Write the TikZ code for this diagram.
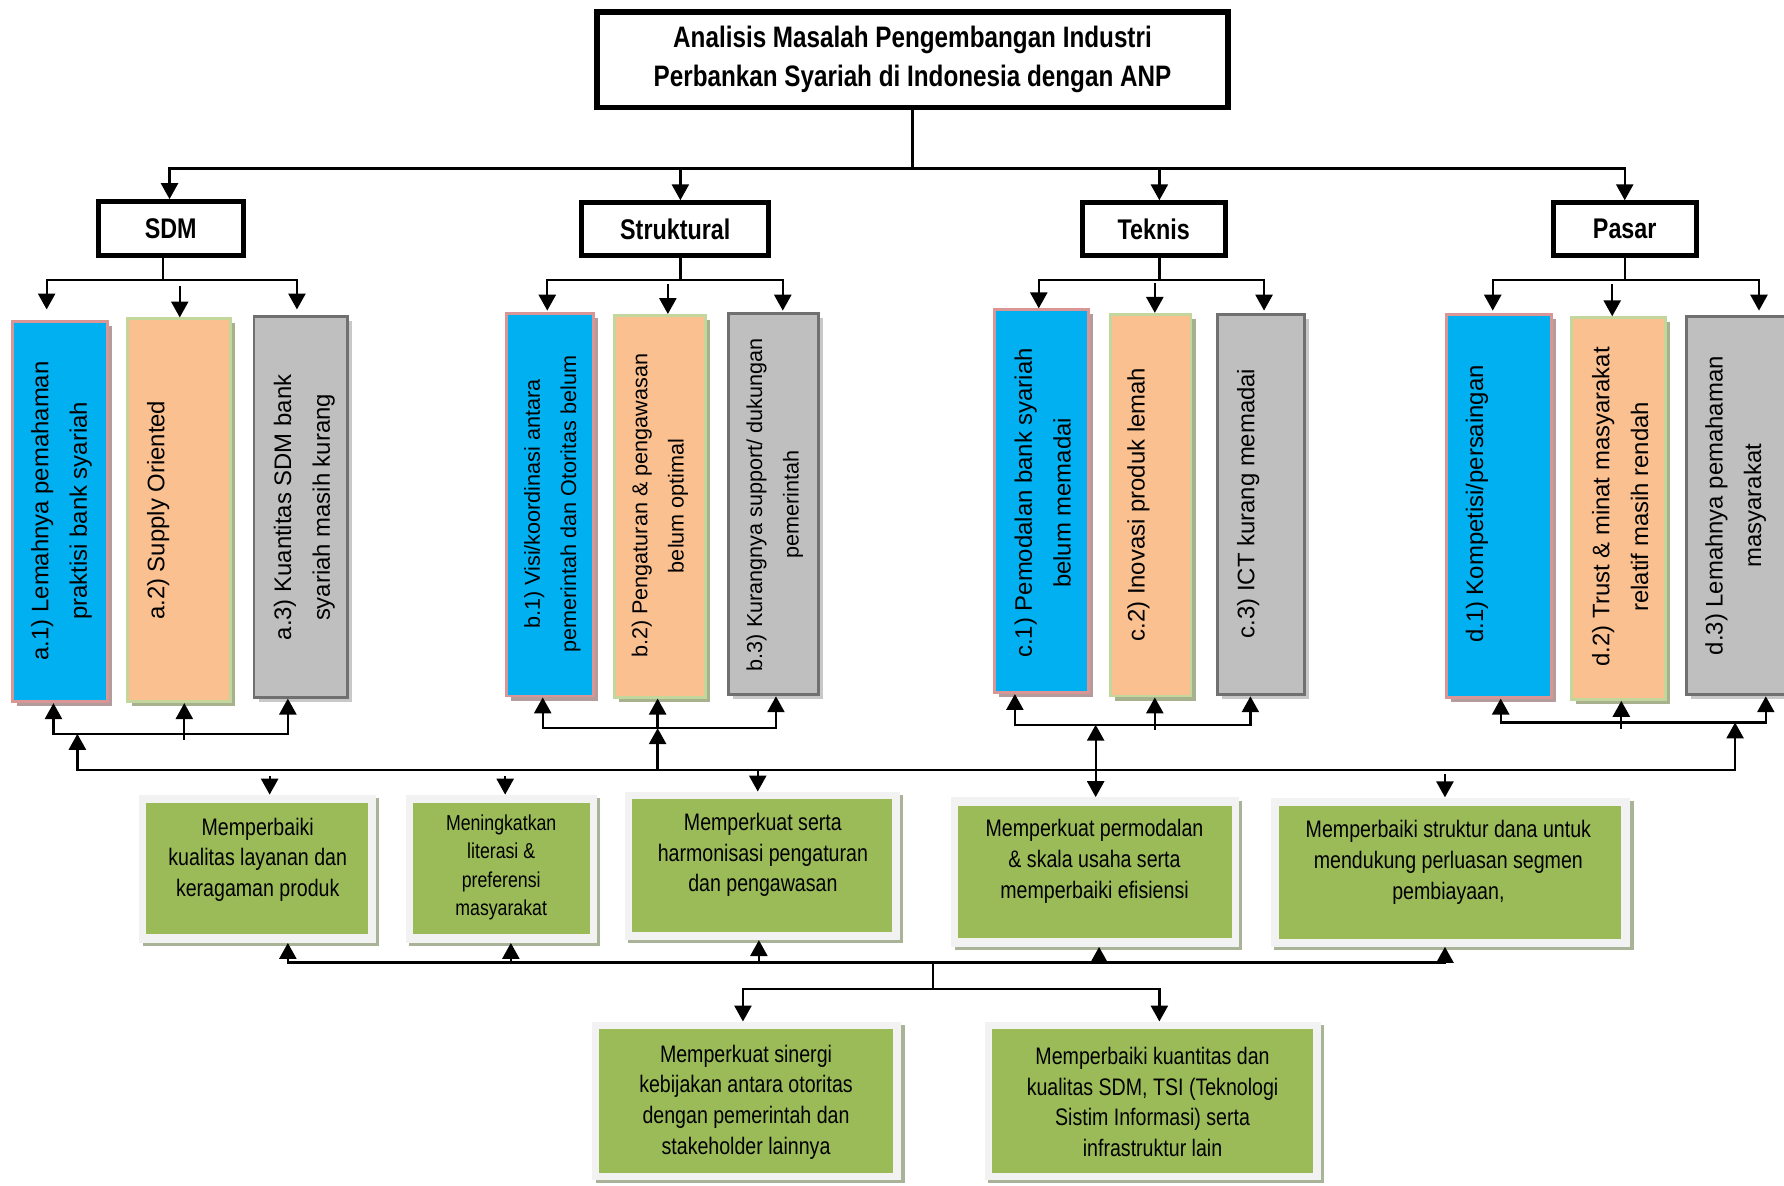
\documentclass[tikz,border=0pt]{standalone}
\usepackage{fontspec}
\setmainfont{Liberation Sans}
\newfontfamily\narrow{Liberation Sans}[FakeStretch=0.82]
\usetikzlibrary{arrows.meta,shadows}
\definecolor{blueF}{HTML}{00B0F0}
\definecolor{blueB}{HTML}{D99694}
\definecolor{blueS}{HTML}{B49C9C}
\definecolor{orangeF}{HTML}{FAC090}
\definecolor{orangeB}{HTML}{C3D69B}
\definecolor{orangeS}{HTML}{A8B18E}
\definecolor{grayF}{HTML}{BFBFBF}
\definecolor{grayB}{HTML}{707070}
\definecolor{grayS}{HTML}{C8C8C8}
\definecolor{greenF}{HTML}{9BBB59}
\definecolor{frameC}{HTML}{F2F2F2}
\definecolor{greenS}{HTML}{A9B397}
\begin{document}
\begin{tikzpicture}[x=1pt,y=-1pt,
  ln/.style={line width=2pt,line cap=rect},
  arr/.style={line width=2pt,line cap=rect,-{Triangle[length=14pt,width=15pt]}},
  darr/.style={line width=2pt,{Triangle[length=14pt,width=15pt]}-{Triangle[length=14pt,width=15pt]}},
  headbox/.style={draw=black,line width=5pt,fill=white,inner sep=0pt,align=center,
    font=\narrow\bfseries\fontsize{26}{34}\selectfont},
  catbox/.style={draw=black,line width=4.5pt,fill=white,inner sep=0pt,
    font=\narrow\bfseries\fontsize{25}{30}\selectfont},
  bluebox/.style={fill=blueF,draw=blueB,line width=2.5pt,inner sep=0pt,
    drop shadow={shadow xshift=4pt,shadow yshift=-4pt,opacity=1,fill=blueS}},
  orangebox/.style={fill=orangeF,draw=orangeB,line width=2.5pt,inner sep=0pt,
    drop shadow={shadow xshift=4pt,shadow yshift=-4pt,opacity=1,fill=orangeS}},
  graybox/.style={fill=grayF,draw=grayB,line width=2.5pt,inner sep=0pt,
    drop shadow={shadow xshift=4pt,shadow yshift=-4pt,opacity=1,fill=grayS}},
  vtext/.style={rotate=90,align=center,inner sep=0pt,font=\fontsize{21}{34}\selectfont},
  vtextsm/.style={rotate=90,align=center,inner sep=0pt,font=\fontsize{19}{32}\selectfont},
  gframe/.style={fill=frameC,inner sep=0pt,
    drop shadow={shadow xshift=3pt,shadow yshift=-3pt,opacity=1,fill=greenS}},
  ginner/.style={fill=greenF,inner sep=0pt},
  gtext/.style={align=center,inner sep=0pt,font=\narrow\fontsize{21}{27}\selectfont},
  gtextsm/.style={align=center,inner sep=0pt,font=\narrow\fontsize{19}{25}\selectfont},
]
\useasboundingbox (0,0) rectangle (1568,1042);

% ---------- title and categories ----------
\node[headbox,minimum width=555pt,minimum height=84pt] (title) at (802,52.5)
  {Analisis Masalah Pengembangan Industri\\Perbankan Syariah di Indonesia dengan ANP};
\node[catbox,minimum width=127.5pt,minimum height=47.5pt] (sdm) at (150,201) {SDM};
\node[catbox,minimum width=164.5pt,minimum height=46.5pt] (str) at (593.5,201.5) {Struktural};
\node[catbox,minimum width=125.5pt,minimum height=46.5pt] (tek) at (1014,201.5) {Teknis};
\node[catbox,minimum width=125.5pt,minimum height=46.5pt] (pas) at (1428,201.5) {Pasar};

% ---------- coloured problem boxes ----------
\node[bluebox,minimum width=83.5pt,minimum height=334.5pt] (a1) at (53,449.5) {};
\node[orangebox,minimum width=90.5pt,minimum height=336.5pt] (a2) at (157.5,448.5) {};
\node[graybox,minimum width=82.5pt,minimum height=334.5pt] (a3) at (264.5,445.5) {};
\node[bluebox,minimum width=76.5pt,minimum height=336.5pt] (b1) at (483.5,443.5) {};
\node[orangebox,minimum width=79.5pt,minimum height=335.5pt] (b2) at (580,445) {};
\node[graybox,minimum width=79.5pt,minimum height=335.5pt] (b3) at (680,443) {};
\node[bluebox,minimum width=82.5pt,minimum height=336.5pt] (c1) at (915.5,440.5) {};
\node[orangebox,minimum width=70.5pt,minimum height=335.5pt] (c2) at (1011.5,444) {};
\node[graybox,minimum width=76.5pt,minimum height=334.5pt] (c3) at (1108.5,443.5) {};
\node[bluebox,minimum width=92.5pt,minimum height=336.5pt] (d1) at (1317.5,444.5) {};
\node[orangebox,minimum width=82.5pt,minimum height=335.5pt] (d2) at (1422.5,447) {};
\node[graybox,minimum width=88.5pt,minimum height=332.5pt] (d3) at (1526.5,444.5) {};

\node[vtext] (a1t) at (54,449) {a.1) Lemahnya pemahaman\\praktisi bank syariah};
\node[vtext] (a2t) at (139,448.5) {a.2) Supply Oriented};
\node[vtext] (a3t) at (267.5,446) {a.3) Kuantitas SDM bank\\syariah masih kurang};
\node[vtextsm] (b1t) at (485.5,443) {b.1) Visi/koordinasi antara\\pemerintah dan Otoritas belum};
\node[vtextsm] (b2t) at (580,444.5) {b.2) Pengaturan \& pengawasan\\belum optimal};
\node[vtextsm] (b3t) at (681,443.5) {b.3) Kurangnya support/ dukungan\\pemerintah};
\node[vtext] (c1t) at (916.5,442) {c.1) Pemodalan bank syariah\\belum memadai};
\node[vtext] (c2t) at (1000.5,443.5) {c.2) Inovasi produk lemah};
\node[vtext] (c3t) at (1097,442.5) {c.3) ICT kurang memadai};
\node[vtext] (d1t) at (1298,443) {d.1) Kompetisi/persaingan};
\node[vtext] (d2t) at (1424,445.5) {d.2) Trust \& minat masyarakat\\relatif masih rendah};
\node[vtext] (d3t) at (1525.5,444.5) {d.3) Lemahnya pemahaman\\masyarakat};

% ---------- green solution boxes ----------
\node[gframe,minimum width=208pt,minimum height=130pt] (G1) at (226.5,763.6) {};
\node[ginner,minimum width=195.4pt,minimum height=115.5pt] (G1i) at (226,763.2) {};
\node[gframe,minimum width=167.8pt,minimum height=130pt] (G2) at (440.7,763.6) {};
\node[ginner,minimum width=155.3pt,minimum height=115.5pt] (G2i) at (441,763.2) {};
\node[gframe,minimum width=242pt,minimum height=130.2pt] (G3) at (670,761) {};
\node[ginner,minimum width=228.5pt,minimum height=116.3pt] (G3i) at (670,760.6) {};
\node[gframe,minimum width=253pt,minimum height=131.3pt] (G4) at (962.5,766.4) {};
\node[ginner,minimum width=240.2pt,minimum height=116.3pt] (G4i) at (962.4,766.5) {};
\node[gframe,minimum width=316pt,minimum height=131pt] (G5) at (1275,766.5) {};
\node[ginner,minimum width=301pt,minimum height=117pt] (G5i) at (1274.5,766.5) {};
\node[gframe,minimum width=271.6pt,minimum height=139pt] (G6) at (656.2,967.5) {};
\node[ginner,minimum width=257.8pt,minimum height=126.5pt] (G6i) at (655.7,968) {};
\node[gframe,minimum width=295.3pt,minimum height=139pt] (G7) at (1013.2,967.5) {};
\node[ginner,minimum width=282pt,minimum height=126.3pt] (G7i) at (1013,967.9) {};

\node[gtext] (G1t) at (226.5,755.5) {Memperbaiki\\kualitas layanan dan\\keragaman produk};
\node[gtextsm] (G2t) at (440.5,762.5) {Meningkatkan\\literasi \&\\preferensi\\masyarakat};
\node[gtext] (G3t) at (670.5,751.5) {Memperkuat serta\\harmonisasi pengaturan\\dan pengawasan};
\node[gtext] (G4t) at (962,757) {Memperkuat permodalan\\\& skala usaha serta\\memperbaiki efisiensi};
\node[gtext] (G5t) at (1273,758) {Memperbaiki struktur dana untuk\\mendukung perluasan segmen\\pembiayaan,};
\node[gtext] (G6t) at (655.7,968.5) {Memperkuat sinergi\\kebijakan antara otoritas\\dengan pemerintah dan\\stakeholder lainnya};
\node[gtext] (G7t) at (1013,968.5) {Memperbaiki kuantitas dan\\kualitas SDM, TSI (Teknologi\\Sistim Informasi) serta\\infrastruktur lain};

% ---------- connectors: title to categories ----------
\coordinate (tj) at (802,148);
\coordinate (tA) at (149,148);
\coordinate (tB) at (598,148);
\coordinate (tC) at (1019,148);
\coordinate (tD) at (1428,148);
\draw[ln] (title.south) -- (tj);
\draw[arr] (tj) -| (tA |- sdm.north);
\draw[arr] (tj) -| (tD |- pas.north);
\draw[arr] (tB) -- (tB |- str.north);
\draw[arr] (tC) -- (tC |- tek.north);

% ---------- categories to problem boxes ----------
\coordinate (sA) at (143,246);  \coordinate (sA1) at (41,272);  \coordinate (sA3) at (261,272);  \coordinate (sA2) at (158,252);
\draw[arr] (sdm.south -| sA) -- (sA) -| (sA1);
\draw[arr] (sA) -| (sA3);
\draw[arr] (sA2) -- (sA2 |- a2.north);

\coordinate (bA) at (598,246);  \coordinate (bA1) at (481,273); \coordinate (bA3) at (688,273); \coordinate (bA2) at (587,251);
\draw[arr] (str.south -| bA) -- (bA) -| (bA1);
\draw[arr] (bA) -| (bA3);
\draw[arr] (bA2) -- (bA2 |- b2.north);

\coordinate (cA) at (1019,246); \coordinate (cA1) at (913,271); \coordinate (cA3) at (1111,273); \coordinate (cA2) at (1015,250);
\draw[arr] (tek.south -| cA) -- (cA) -| (cA1);
\draw[arr] (cA) -| (cA3);
\draw[arr] (cA2) -- (cA2 |- c2.north);

\coordinate (dA) at (1428,246); \coordinate (dA1) at (1312,273); \coordinate (dA3) at (1546,273); \coordinate (dA2) at (1417,251);
\draw[arr] (pas.south -| dA) -- (dA) -| (dA1);
\draw[arr] (dA) -| (dA3);
\draw[arr] (dA2) -- (dA2 |- d2.north);

% ---------- problem boxes bottom collectors ----------
\coordinate (sB1) at (47,645);  \coordinate (sB3) at (253,645);  \coordinate (sB2) at (162,649);
\draw[arr] (sB3) -- (sB1) -- (sB1 |- a1.south);
\draw[arr] (sB3) -- (sB3 |- a3.south);
\draw[arr] (sB2) -- (sB2 |- a2.south);

\coordinate (bB1) at (477,640); \coordinate (bB3) at (682,640); \coordinate (bB2) at (578,640);
\draw[arr] (bB3) -- (bB1) -- (bB1 |- b1.south);
\draw[arr] (bB3) -- (bB3 |- b3.south);
\draw[arr] (bB2) -- (bB2 |- b2.south);

\coordinate (cB1) at (892,637); \coordinate (cB3) at (1099,637); \coordinate (cB2) at (1015,641);
\draw[arr] (cB3) -- (cB1) -- (cB1 |- c1.south);
\draw[arr] (cB3) -- (cB3 |- c3.south);
\draw[arr] (cB2) -- (cB2 |- c2.south);

\coordinate (dB1) at (1319,635); \coordinate (dB3) at (1552,635); \coordinate (dB2) at (1425,640);
\draw[arr] (dB3) -- (dB1) -- (dB1 |- d1.south);
\draw[arr] (dB3) -- (dB3 |- d3.south);
\draw[arr] (dB2) -- (dB2 |- d2.south);

% ---------- main distribution line ----------
\coordinate (mL) at (68,677);
\coordinate (mR) at (1525,677);
\draw[arr] (mR) -- (mL) -- (mL |- sB1);
\draw[arr] (mR) -- (mR |- dB1);
\draw[arr] (bB2 |- mL) -- (bB2);
\coordinate (cJ) at (963,637);
\draw[darr] (cJ) -- (cJ |- G4.north);

\coordinate (gd1) at (237,683); \coordinate (gd2) at (444,683);
\coordinate (gd3) at (666,679); \coordinate (gd5) at (1270,681);
\draw[arr] (gd1) -- (gd1 |- G1.north);
\draw[arr] (gd2) -- (gd2 |- G2.north);
\draw[arr] (gd3) -- (gd3 |- G3.north);
\draw[arr] (gd5) -- (gd5 |- G5.north);

% ---------- lower collector ----------
\coordinate (hb1) at (253,846); \coordinate (hb2) at (449,846); \coordinate (hb3) at (667,846);
\coordinate (hb4) at (966,846); \coordinate (hb5) at (1270,846);
\draw[arr] (hb5) -- (hb1) -- (hb1 |- G1.south);
\draw[arr] (hb2) -- (hb2 |- G2.south);
\draw[arr] (hb3) -- (hb3 |- G3.south);
\draw[arr] (hb4) -- (hb4 |- G4.south);
\draw[arr] (hb5) -- (hb5 |- G5.south);

\coordinate (vj) at (820,846); \coordinate (vk) at (820,869.5);
\coordinate (vl) at (653,869.5); \coordinate (vr) at (1019,869.5);
\draw[ln] (vj) -- (vk);
\draw[arr] (vk) -- (vl) -- (vl |- G6.north);
\draw[arr] (vk) -- (vr) -- (vr |- G7.north);
\end{tikzpicture}
\end{document}
